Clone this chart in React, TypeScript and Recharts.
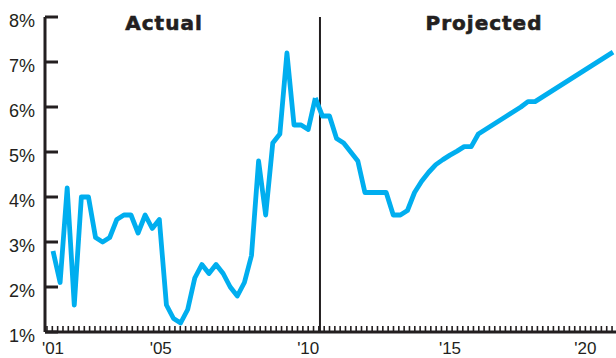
import React from 'react';
import { LineChart, Line, XAxis, YAxis, ReferenceLine } from 'recharts';

// Quarterly index (0 = 2001 Q1)
const actualValues = [
  2.8, 2.1, 4.2, 1.6, 4.0, 4.0, 3.1, 3.0, 3.1, 3.5, 3.6, 3.6, 3.2, 3.6, 3.3, 3.5,
  1.6, 1.3, 1.2, 1.5, 2.2, 2.5, 2.3, 2.5, 2.3, 2.0, 1.8, 2.1, 2.7, 4.8, 3.6, 5.2,
  5.4, 7.2, 5.6, 5.6, 5.5, 6.2,
];
const projectedStart = 37;
const projectedValues = [
  6.2, 5.8, 5.8, 5.3, 5.2, 5.0, 4.8, 4.1, 4.1, 4.1, 4.1, 3.6, 3.6, 3.7, 4.1, 4.35,
  4.55, 4.72, 4.83, 4.93, 5.02, 5.12, 5.12, 5.4, 5.5, 5.6, 5.7, 5.8, 5.9, 6.0, 6.12,
  6.12, 6.22, 6.32, 6.42, 6.52, 6.62, 6.72, 6.82, 6.92, 7.02, 7.12, 7.22,
];
const yTicks = [1, 2, 3, 4, 5, 6, 7, 8];
const xTickPositions = [0, 15.2, 36, 56, 75.1];
const xTickLabels = ["'01", "'05", "'10", "'15", "'20"];
const dividerIndex = 37.66;
const sectionTitles = ['Actual', 'Projected'];

const X_MIN = -1.13;
const X_MAX = 79.42;
const Y_MIN = 1;
const Y_MAX = 8;

const total = projectedStart + projectedValues.length;
const data = Array.from({ length: total }, (_, i) => ({
  i,
  actual: i < actualValues.length ? actualValues[i] : null,
  projected: i >= projectedStart ? projectedValues[i - projectedStart] : null,
}));

const minorTicks: number[] = [];
for (let t = -0.85; t <= 79.2; t += 0.752) minorTicks.push(Number(t.toFixed(3)));

// tick mark lengths in data units (plot: 571px wide over X range, 315px tall over Y range)
const pxX = (X_MAX - X_MIN) / 571;
const pxY = (Y_MAX - Y_MIN) / 315;
const MAJOR_LEN = 13 * pxX;
const MINOR_LEN = 6 * pxY;

const INK = '#231f20';
const BLUE = '#00aeef';
const FONT = '"Liberation Sans", Arial, sans-serif';

const YTick = (props: any) => {
  const { x, y, payload } = props;
  return (
    <text x={x} y={y + 4} dy="0.35em" textAnchor="end" fontFamily={FONT} fontSize={18} fill={INK}>
      {`${payload.value}%`}
    </text>
  );
};

const XTick = (props: any) => {
  const { x, y, payload } = props;
  const idx = xTickPositions.indexOf(payload.value);
  return (
    <text x={x} y={y + 14} textAnchor="middle" fontFamily={FONT} fontSize={17} fill={INK}>
      {xTickLabels[idx]}
    </text>
  );
};

const titleStyle: React.CSSProperties = {
  position: 'absolute',
  top: 12,
  fontFamily: '"DejaVu Sans", sans-serif',
  fontWeight: 'bold',
  fontSize: 20,
  letterSpacing: 1,
  color: INK,
  WebkitTextStroke: '0.6px #231f20',
  lineHeight: '22px',
  whiteSpace: 'nowrap',
  transform: 'translateX(-50%)',
};

export default function App() {
  return (
    <div style={{ position: 'absolute', left: 0, top: 0, width: 616, height: 358, background: '#fff' }}>
      <LineChart width={616} height={358} data={data} margin={{ top: 17, right: 0, bottom: 0, left: 0 }}>
        <XAxis
          dataKey="i"
          type="number"
          domain={[X_MIN, X_MAX]}
          ticks={xTickPositions}
          interval={0}
          height={26}
          tickLine={false}
          axisLine={false}
          tick={<XTick />}
        />
        <YAxis
          type="number"
          domain={[Y_MIN, Y_MAX]}
          ticks={yTicks}
          interval={0}
          width={45}
          tickLine={false}
          axisLine={false}
          tickSize={6}
          tickMargin={4}
          tick={<YTick />}
        />
        {minorTicks.map((t) => (
          <ReferenceLine
            key={`m${t}`}
            segment={[{ x: t, y: Y_MIN }, { x: t, y: Y_MIN + MINOR_LEN }]}
            stroke={INK}
            strokeWidth={1.6}
            ifOverflow="visible"
          />
        ))}
        {yTicks.map((v) => (
          <ReferenceLine
            key={`y${v}`}
            segment={[{ x: X_MIN, y: v }, { x: X_MIN + MAJOR_LEN, y: v }]}
            stroke={INK}
            strokeWidth={3}
            ifOverflow="visible"
          />
        ))}
        <ReferenceLine x={X_MIN} stroke={INK} strokeWidth={3} ifOverflow="visible" />
        <ReferenceLine y={Y_MIN} stroke={INK} strokeWidth={3} ifOverflow="visible" />
        <ReferenceLine x={dividerIndex} stroke={INK} strokeWidth={2} />
        <Line
          dataKey="actual"
          stroke={BLUE}
          strokeWidth={4.8}
          dot={false}
          strokeLinejoin="round"
          isAnimationActive={false}
        />
        <Line
          dataKey="projected"
          stroke={BLUE}
          strokeWidth={4.8}
          dot={false}
          strokeLinejoin="round"
          isAnimationActive={false}
        />
      </LineChart>
      <div style={{ ...titleStyle, left: 164 }}>{sectionTitles[0]}</div>
      <div style={{ ...titleStyle, left: 484 }}>{sectionTitles[1]}</div>
    </div>
  );
}
